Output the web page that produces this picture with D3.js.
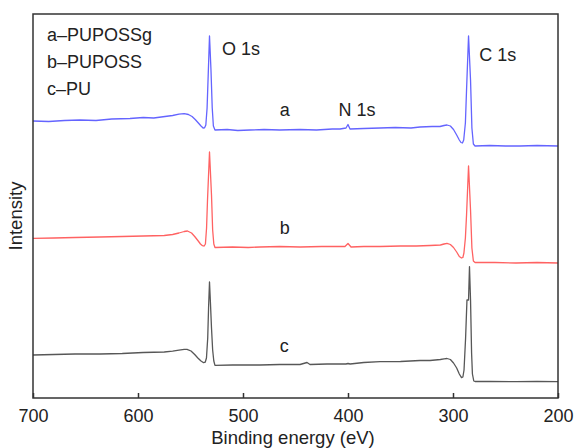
<!DOCTYPE html>
<html>
<head>
<meta charset="utf-8">
<script src="https://cdn.jsdelivr.net/npm/d3@7"></script>
<style>
  body { margin: 0; background: #fff; }
  text { font-family: "Liberation Sans", Arial, sans-serif; fill: #222; }
</style>
</head>
<body>
<svg id="chart" width="574" height="448"></svg>
<script>
// binding energy (eV) and intensity (a.u.)
var energyA = [700, 685, 670, 655.2, 640, 625, 607.6, 595, 585, 574.3, 567, 561, 556, 552, 548.5, 545.5, 542.5, 540, 538, 536.6, 535.4,
  534.2, 533.3, 531.9, 530.5, 529.3, 528.2, 526.7,
  515, 505, 493.3, 480, 465, 445.7, 430, 415, 407.6, 401.9, 400, 398.1, 385, 369.5, 355, 340, 331.4, 320, 312.4, 308.5, 305.7, 302.5,
  299.5, 296.5, 294, 292.4, 291, 289.8, 288.2, 287.1, 285.2, 283.3, 282, 280.6, 279, 265, 250, 236.2, 220, 200];
var intensA = [277, 276.5, 277.5, 278, 277.5, 279, 279.5, 280.5, 280, 281.5, 282.5, 283.8, 284.3, 283.5, 281.5, 278.5, 275, 272, 270, 270.2, 273,
  290, 318, 362, 328, 290, 272, 268,
  268.5, 267.5, 268, 268.5, 268, 268.5, 268, 269, 269, 270, 273.5, 269, 269.5, 270, 270.5, 270, 271, 271.5, 271.5, 272.5, 273, 272,
  268.5, 263, 258, 255.5, 255, 258, 275, 308, 362, 318, 270, 254, 252, 252.5, 252, 252, 252.5, 252];

var energyB = [700, 680, 660, 636.2, 615, 595, 575, 567, 561, 556, 552.9, 549, 546, 543, 540.5, 538.6, 537, 535.8,
  534.7, 533.8, 531.9, 530, 528.9, 527.8, 526.7,
  510, 495, 483.8, 465, 445.7, 425, 402.9, 400, 397.1, 385, 369.5, 350, 335, 321.9, 312, 308.5, 305.7, 302.5,
  299.5, 296.5, 294, 291.9, 290.6, 289.6, 288.2, 287.1, 285.2, 283.3, 282, 280.6, 279, 260, 240, 220, 200];
var intensB = [159.7, 160, 160.5, 161, 161.5, 162, 162.5, 163.5, 165, 166.5, 167, 165, 161.5, 157.5, 154, 152.3, 152, 154,
  170, 198, 246, 203, 168, 154, 150.5,
  151, 150.5, 151, 151.5, 151, 151.5, 151.5, 154.5, 151, 151.5, 151.5, 152, 152, 152.5, 153, 154, 154.7, 153.5,
  150.5, 146, 141.5, 140, 140.5, 145, 160, 183, 232, 188, 150, 137, 135.5, 135.5, 135, 135.5, 135];

var energyC = [700, 680, 660, 636.2, 615, 595, 575, 567, 561, 556, 553.3, 549.5, 546, 543, 540, 537.5, 536, 534.8,
  533.6, 532.8, 531.9, 531, 530, 528.9, 527.8, 526.7,
  510, 483.8, 465, 445.7, 439, 436.2, 420, 402, 400, 398, 385, 369.5, 350, 331.4, 321.9, 312, 308.5, 305.7, 302.5,
  299.5, 296.5, 294, 291.9, 290.6, 289.5, 288, 286.7, 285.2, 284.3, 283.3, 282.3, 281.5, 280.2, 279, 265, 240, 220, 200];
var intensC = [43, 43.5, 44, 44, 44.5, 45.5, 46, 46.8, 47.8, 48.6, 48.7, 47, 43.5, 40, 37, 35.3, 35.8, 40,
  60, 90, 116, 95, 70, 48, 37, 32.7,
  33, 33, 33.5, 33.5, 35.5, 33.5, 34, 34, 34.5, 34, 35.5, 36.3, 36.5, 37.5, 37.5, 38.5, 39.2, 39.5, 38.5,
  35, 30, 24, 20.3, 21, 28, 60, 98, 98, 131.3, 98, 45, 24, 17, 16.5, 16.5, 16.3, 16.5, 16.3];

var xTicks = [700, 600, 500, 400, 300, 200];
var legendLabels = ['a\u2013PUPOSSg', 'b\u2013PUPOSS', 'c\u2013PU'];
var seriesColors = ['#6464ff', '#ff6262', '#575757'];

var svg = d3.select('#chart');
var mLeft = 33, mRight = 558, mTop = 14, mBottom = 398;

var x = d3.scaleLinear().domain([700, 200]).range([mLeft, mRight]);
var y = d3.scaleLinear().domain([0, 384]).range([mBottom, mTop]);

var line = d3.line()
  .x(function(d) { return x(d[0]); })
  .y(function(d) { return y(d[1]); });

var series = [
  d3.zip(energyA, intensA),
  d3.zip(energyB, intensB),
  d3.zip(energyC, intensC)
];

svg.selectAll('.spec')
  .data(series)
  .enter().append('path')
  .attr('class', 'spec')
  .attr('fill', 'none')
  .attr('stroke', function(d, i) { return seriesColors[i]; })
  .attr('stroke-width', 1.3)
  .attr('stroke-linejoin', 'round')
  .attr('d', line);

// frame
svg.append('rect')
  .attr('x', mLeft).attr('y', mTop)
  .attr('width', mRight - mLeft).attr('height', mBottom - mTop)
  .attr('fill', 'none')
  .attr('stroke', '#333')
  .attr('stroke-width', 1.5);

// bottom axis, ticks pointing inside
var xAxis = svg.append('g')
  .attr('transform', 'translate(0,' + mBottom + ')')
  .call(d3.axisBottom(x).tickValues(xTicks).tickSizeInner(-5).tickSizeOuter(0).tickPadding(11));
xAxis.select('.domain').remove();
xAxis.selectAll('line').attr('stroke', '#333').attr('stroke-width', 1.5);
xAxis.selectAll('text')
  .style('font-family', '"Liberation Sans", Arial, sans-serif')
  .style('font-size', '18px')
  .attr('fill', '#222');

svg.append('text')
  .attr('x', 293).attr('y', 444)
  .attr('text-anchor', 'middle')
  .style('font-size', '18.5px')
  .text('Binding energy (eV)');

svg.append('text')
  .attr('transform', 'translate(22,216) rotate(-90)')
  .attr('text-anchor', 'middle')
  .style('font-size', '18.5px')
  .text('Intensity');

// legend text
svg.selectAll('.legend')
  .data(legendLabels)
  .enter().append('text')
  .attr('class', 'legend')
  .attr('x', 47)
  .attr('y', function(d, i) { return 41 + i * 27; })
  .style('font-size', '18px')
  .text(function(d) { return d; });

// peak and curve labels
var notes = [
  {t: 'O 1s', e: 520, v: 343},
  {t: 'C 1s', e: 275, v: 337},
  {t: 'a', e: 465, v: 282},
  {t: 'N 1s', e: 409, v: 282},
  {t: 'b', e: 465, v: 163.7},
  {t: 'c', e: 465, v: 46.3}
];
svg.selectAll('.note')
  .data(notes)
  .enter().append('text')
  .attr('class', 'note')
  .attr('x', function(d) { return x(d.e); })
  .attr('y', function(d) { return y(d.v); })
  .style('font-size', '18px')
  .text(function(d) { return d.t; });
</script>
</body>
</html>
